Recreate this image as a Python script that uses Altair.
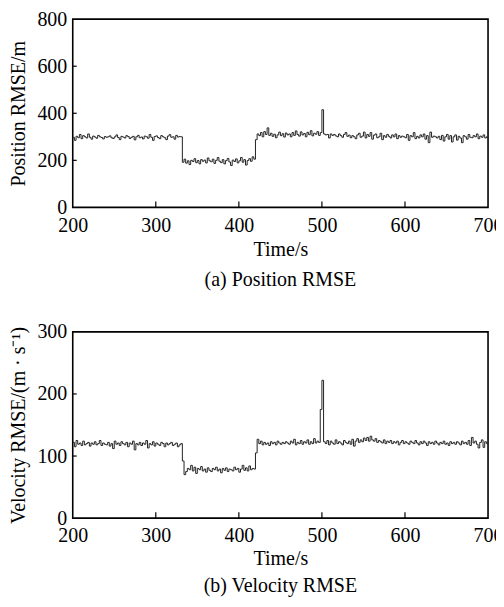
import altair as alt
import pandas as pd

# Position RMSE (m), sampled every 2 s from 200 s to 700 s
pos_seg1 = [
    298, 285, 302, 296, 310, 292, 305, 300, 295, 312,
    298, 290, 303, 299, 294, 306, 300, 297, 291, 301,
    298, 300, 304, 296, 293, 300, 308, 297, 288, 302,
    299, 295, 305, 301, 293, 298, 302, 287, 300, 306,
    296, 299, 291, 303, 300, 294, 310, 298, 285, 301,
    304, 297, 292, 305, 300, 296, 288, 303, 309, 298,
    300, 290, 306, 299, 301, 300,
]
pos_seg2 = [
    192, 205, 188, 198, 182, 200, 195, 207, 190, 199,
    185, 203, 196, 201, 189, 210, 198, 194, 205, 187,
    200, 212, 196, 190, 203, 185, 199, 208, 193, 178,
    201, 195, 206, 189, 198, 212, 192, 203, 180, 199,
    207, 196, 215, 205,
]
pos_seg3 = [
    288, 312, 305, 318, 300, 322, 310, 338, 306, 315,
    302, 311, 296, 308, 320, 305, 313, 299, 316, 308,
    312, 300, 318, 306, 325, 310, 303, 321, 308, 314,
    300, 319, 309, 326, 304, 315, 311, 322, 306, 318,
    415, 312, 308, 310, 295, 312, 306, 310, 304, 300,
    312, 305, 298, 310, 318, 302, 307, 296, 305, 300,
    292, 308, 315, 298, 303, 320, 295, 310, 302, 318,
    290, 307, 312, 296, 300, 315, 288, 305, 298, 310,
    302, 295, 308, 300, 312, 292, 305, 298, 303, 300,
    296, 310, 285, 305, 300, 318, 292, 302, 295, 308,
    300, 312, 290, 305, 275, 320, 298, 303, 300, 295,
    302, 288, 306, 282, 300, 310, 290, 305, 278, 300,
    308, 286, 302, 295, 275, 305, 300, 290, 310, 298,
    296, 305, 300, 312, 292, 303, 298, 308, 295, 300,
    302,
]

# Velocity RMSE (m/s), same sampling
vel_seg1 = [
    122, 115, 125, 119, 121, 117, 124, 118, 120, 122,
    116, 121, 119, 123, 118, 120, 125, 117, 121, 119,
    118, 122, 116, 120, 112, 124, 119, 121, 117, 123,
    120, 118, 122, 115, 121, 119, 124, 110, 120, 118,
    122, 117, 121, 119, 125, 113, 120, 118, 123, 116,
    121, 119, 117, 122, 120, 115, 121, 118, 120, 122,
    117, 119, 121, 115, 118, 120,
]
vel_seg2 = [
    92, 70, 75, 80, 78, 85, 76, 82, 72, 80,
    78, 83, 76, 79, 74, 81, 77, 75, 80, 78,
    82, 76, 79, 73, 80, 77, 81, 75, 79, 78,
    76, 82, 78, 80, 74, 79, 85, 77, 81, 76,
    84, 78, 80, 79,
]
vel_seg3 = [
    105, 127, 120, 124, 118, 122, 119, 121, 117, 123,
    120, 122, 118, 124, 121, 119, 122, 120, 123, 121,
    119, 124, 121, 127, 118, 122, 120, 125, 119, 123,
    121, 126, 119, 123, 120, 128, 121, 124, 122, 175,
    222, 123, 120, 125, 118, 124, 121, 119, 126, 120,
    123, 121, 118, 125, 122, 120, 124, 119, 127, 116,
    124, 128, 122, 126, 123, 129, 125, 130, 124, 132,
    126, 124, 128, 122, 125, 123, 121, 126, 120, 124,
    122, 125, 120, 123, 121, 124, 118, 122, 125, 120,
    123, 121, 119, 124, 122, 120, 125, 121, 118, 123,
    120, 124, 121, 117, 123, 120, 122, 119, 124, 121,
    118, 122, 120, 124, 119, 121, 117, 123, 120, 122,
    119, 123, 121, 118, 124, 120, 122, 119, 125, 117,
    130, 121, 124, 119, 113, 122, 126, 114, 123, 120,
    121,
]

pos_values = pos_seg1 + pos_seg2 + pos_seg3
vel_values = vel_seg1 + vel_seg2 + vel_seg3
times = [200 + 2 * i for i in range(len(pos_values))]

x_ticks = [200, 300, 400, 500, 600, 700]
pos_ticks = [0, 200, 400, 600, 800]
vel_ticks = [0, 100, 200, 300]

FONT = "Liberation Serif"
W = 417


def hidden_axis(orient):
    return alt.Axis(orient=orient, labels=False, ticks=False, domain=False,
                    grid=False, title=None)


def panel(values, ymax, yticks, ytitle, caption, H, lab_pad, tit_pad, cap_off):
    df = pd.DataFrame({"t": times[:len(values)], "v": values})
    x_axis = alt.Axis(values=x_ticks, title="Time/s", ticks=False, tickSize=0,
                      domain=False, grid=False, labelPadding=lab_pad,
                      titlePadding=tit_pad, labelFlush=False, titleFontWeight=400,
                      labelFont=FONT, titleFont=FONT, labelFontSize=20,
                      titleFontSize=20, labelColor="black", titleColor="black")
    y_axis = alt.Axis(values=yticks, title=ytitle, ticks=False, tickSize=0,
                      domain=False, grid=False, labelPadding=6, titlePadding=8,
                      titleFontWeight=400,
                      labelFont=FONT, titleFont=FONT, labelFontSize=20,
                      titleFontSize=20, labelColor="black", titleColor="black")
    xs = alt.Scale(domain=[200, 700], nice=False, zero=False)
    ys = alt.Scale(domain=[0, ymax], nice=False)
    line = alt.Chart(df).mark_line(
        interpolate="step-after", color="#222222", strokeWidth=1
    ).encode(
        x=alt.X("t:Q", scale=xs, axis=x_axis),
        y=alt.Y("v:Q", scale=ys, axis=y_axis),
    )
    xt = alt.Chart(pd.DataFrame({"t": x_ticks[1:-1]})).mark_rule(
        color="black", strokeWidth=1.2
    ).encode(
        x=alt.X("t:Q", scale=xs, axis=hidden_axis("top")),
        y=alt.value(H),
        y2=alt.value(H - 6),
    )
    yt = alt.Chart(pd.DataFrame({"v": yticks[1:-1]})).mark_rule(
        color="black", strokeWidth=1.2
    ).encode(
        y=alt.Y("v:Q", scale=ys, axis=hidden_axis("right")),
        x=alt.value(0),
        x2=alt.value(4),
    )
    return alt.layer(line, xt, yt).resolve_axis(
        x="independent", y="independent"
    ).properties(
        width=W, height=H,
        title=alt.TitleParams(caption, orient="bottom", offset=cap_off, font=FONT,
                              fontSize=20, fontWeight=400, color="black"),
    )


top = panel(pos_values, 800, pos_ticks, "Position RMSE/m", "(a) Position RMSE",
            189, 8, 4, 11)
bottom = panel(vel_values, 300, vel_ticks, "Velocity RMSE/(m · s⁻¹)", "(b) Velocity RMSE",
               187, 7, 4, 7)

chart = alt.vconcat(top, bottom, spacing=30).properties(
    padding={"left": 0, "top": -1, "right": -8, "bottom": -1},
    background="white",
).configure_view(
    stroke="black", strokeWidth=1.6
)

chart.save("out.html", embed_options={"renderer": "svg", "actions": False})
